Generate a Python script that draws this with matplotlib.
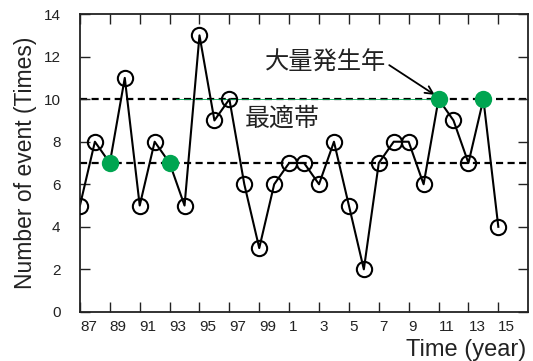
import matplotlib
matplotlib.use("Agg")
import matplotlib.pyplot as plt

plt.rcParams['font.family'] = ['Liberation Sans', 'Noto Sans CJK JP', 'DejaVu Sans']

years = [1987, 1988, 1989, 1990, 1991, 1992, 1993, 1994, 1995, 1996,
         1997, 1998, 1999, 2000, 2001, 2002, 2003, 2004, 2005, 2006,
         2007, 2008, 2009, 2010, 2011, 2012, 2013, 2014, 2015]
events = [5, 8, 7, 11, 5, 8, 7, 5, 13, 9,
          10, 6, 3, 6, 7, 7, 6, 8, 5, 2,
          7, 8, 8, 6, 10, 9, 7, 10, 4]
outbreak_years = [1989, 1993, 2011, 2014]
band_upper = 10
band_lower = 7

tick_years = list(range(1987, 2016, 2))
tick_labels = [str(y % 100) for y in tick_years]

green = '#00a551'

fig = plt.figure(figsize=(5.33, 3.61), dpi=100)
ax = fig.add_axes([0.150, 0.136, 0.841, 0.825])

dash = (0, (3.2, 2.0))
ax.axhline(band_upper, color='black', lw=1.6, ls=dash, zorder=1)
ax.axhline(band_lower, color='black', lw=1.6, ls=dash, zorder=1)
ax.plot([1993.4, 2010.4], [band_upper, band_upper], color=green, lw=0.6, zorder=1.5)

ax.plot(years, events, color='black', lw=1.5, zorder=2)

open_x = [x for x in years if x not in outbreak_years]
open_y = [v for x, v in zip(years, events) if x not in outbreak_years]
ax.plot(open_x, open_y, ls='none', marker='o', ms=11, mfc='none',
        mec='black', mew=1.5, zorder=3)

g_x = [x for x in years if x in outbreak_years]
g_y = [v for x, v in zip(years, events) if x in outbreak_years]
ax.plot(g_x, g_y, ls='none', marker='o', ms=12.5, mfc=green,
        mec=green, mew=0, zorder=4)

ax.set_xlim(1987, 2017)
ax.set_ylim(0, 14)
ax.set_xticks(tick_years)
ax.set_xticklabels(tick_labels, ha='left')
ax.set_yticks(range(0, 15, 2))
ax.tick_params(direction='in', length=7, width=1, labelsize=11,
               top=True, right=True, colors='#222222')
ax.tick_params(axis='x', pad=6)
ax.tick_params(axis='y', pad=14)
for s in ax.spines.values():
    s.set_linewidth(1.3)
    s.set_color('#222222')

ax.set_ylabel('Number of event (Times)', fontsize=16.5, labelpad=4.5,
              color='#222222')
fig.text(0.987, 0.0, 'Time (year)', fontsize=17, ha='right', va='bottom',
         color='#222222')

cjk = ['Noto Sans CJK JP', 'DejaVu Sans']
ax.text(1999.4, 11.7, '大量発生年', fontsize=17.5, family=cjk, va='center',
        ha='left', color='#222222')
ax.annotate('', xy=(2010.75, 10.2), xytext=(2007.7, 11.6),
            arrowprops=dict(arrowstyle='->', color='black', lw=1.3,
                            shrinkA=0, shrinkB=0, mutation_scale=14))
ax.text(1998.0, 9.1, '最適帯', fontsize=18, family=cjk, va='center',
        ha='left', color='#222222')

fig.savefig('out.png', dpi=100)
